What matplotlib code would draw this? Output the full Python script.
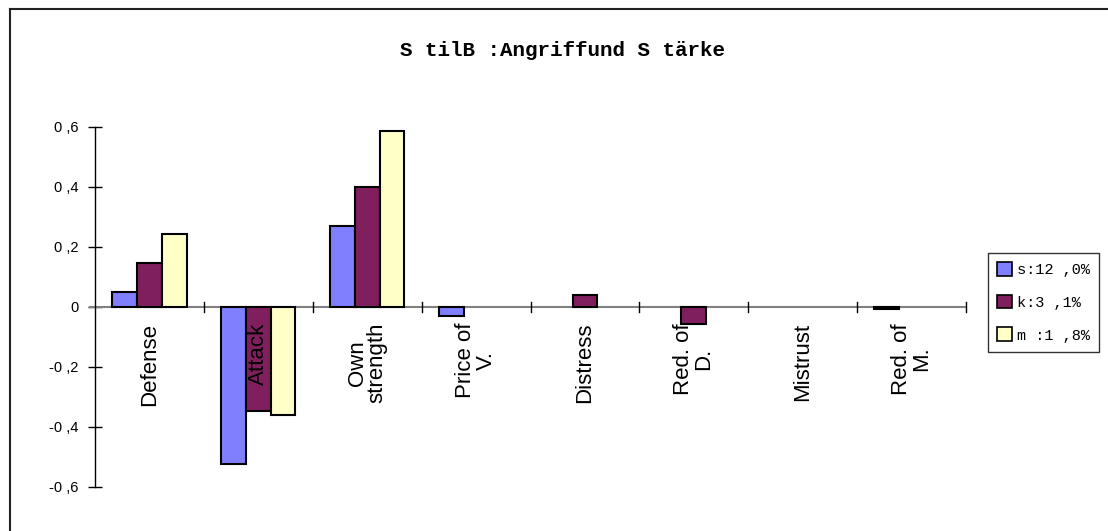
import matplotlib
matplotlib.use("Agg")
import matplotlib.pyplot as plt
import numpy as np
from matplotlib.lines import Line2D
from matplotlib.patches import Patch

categories = ["Defense", "Attack", "Own\nstrength", "Price of\nV.", "Distress",
              "Red. of\nD.", "Mistrust", "Red. of\nM."]
series_names = ["s:12 ,0%", "k:3 ,1%", "m :1 ,8%"]
s_vals = [0.051, -0.524, 0.27, -0.03, 0.0, 0.0, 0.0, -0.008]
k_vals = [0.148, -0.346, 0.401, 0.0, 0.04, -0.058, 0.0, 0.0]
m_vals = [0.243, -0.359, 0.588, 0.0, 0.0, 0.0, 0.0, 0.0]
ytick_vals = [-0.6, -0.4, -0.2, 0, 0.2, 0.4, 0.6]
ytick_labels = ["-0 ,6", "-0 ,4", "-0 ,2", "0", "0 ,2", "0 ,4", "0 ,6"]
title = "S tilB :Angriffund S tärke"

colors = ["#8080FF", "#801F5E", "#FFFFC8"]

W, H = 1108, 531
fig = plt.figure(figsize=(W / 100, H / 100), dpi=100)

# chart border (top and left visible)
fig.add_artist(Line2D([10 / W, 10 / W], [0, 1 - 9 / H], color="#222222", lw=1.5))
fig.add_artist(Line2D([10 / W, 1], [1 - 9 / H, 1 - 9 / H], color="#222222", lw=1.5))

left, right, top, bottom = 95, 966, 127, 487
ax = fig.add_axes([left / W, 1 - bottom / H, (right - left) / W, (bottom - top) / H])

n = len(categories)
gap = 1.4
bw = 1.0 / (3 + gap)
x0 = np.arange(n)
for i, vals in enumerate([s_vals, k_vals, m_vals]):
    xs = x0 + gap / 2 * bw + i * bw
    nz = [j for j, v in enumerate(vals) if v != 0]
    ax.bar(xs[nz], np.array(vals)[nz], width=bw, align="edge", color=colors[i],
           edgecolor="black", linewidth=1.5, zorder=3, label=series_names[i])

ax.set_xlim(0, n)
ax.set_ylim(-0.6, 0.6)
for sp in ["top", "right", "bottom"]:
    ax.spines[sp].set_visible(False)
ax.spines["left"].set_linewidth(1.0)
ax.set_yticks(ytick_vals)
ax.set_yticklabels(ytick_labels, fontfamily="Liberation Sans", fontsize=10.5)
ax.tick_params(axis="y", direction="inout", length=10, width=1, pad=7)
ax.set_xticks([])

# category axis at zero
ax.plot([-0.05, n], [0, 0], color="#808080", lw=1.5, zorder=2, clip_on=False)
for b in range(1, n + 1):
    ax.plot([b, b], [-0.018, 0.018], color="black", lw=1, zorder=4, clip_on=False)

for j, c in enumerate(categories):
    ax.text(j + 0.5, -0.053, c, rotation=90, ha="center", va="top",
            fontfamily="Liberation Sans", fontsize=16, linespacing=0.95,
            zorder=5, multialignment="center")

fig.text((401 + 725) / 2 / W, 1 - 50 / H, title, ha="center", va="center",
         fontfamily="Liberation Mono", fontweight="bold", fontsize=15)

handles = [Patch(facecolor=colors[i], edgecolor="black", linewidth=1.2) for i in range(3)]
leg = fig.legend(handles, series_names, loc="upper left",
                 bbox_to_anchor=(988 / W, 1 - 253 / H),
                 prop={"family": "Liberation Mono", "size": 11},
                 frameon=True, fancybox=False, edgecolor="black",
                 handlelength=1.0, handleheight=1.0, handletextpad=0.3,
                 borderpad=0.6, labelspacing=1.15, borderaxespad=0)
leg.get_frame().set_linewidth(1.0)

fig.savefig("out.png", dpi=100)
